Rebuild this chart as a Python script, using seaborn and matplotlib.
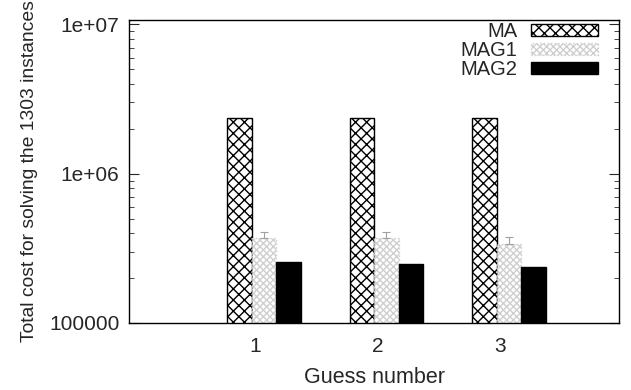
import seaborn as sns
import matplotlib.pyplot as plt
import pandas as pd
import numpy as np

# Wartości
guesses = ["1", "2", "3"]
methods = ["MA", "MAG1", "MAG2"]
ma_cost = [2.36e6, 2.36e6, 2.36e6]
mag1_cost = [3.69e5, 3.69e5, 3.36e5]
mag2_cost = [2.55e5, 2.47e5, 2.36e5]
mag1_err = [3.5e4, 3.5e4, 3.8e4]
y_ticks = [1e5, 1e6, 1e7]
y_tick_labels = ["100000", "1e+06", "1e+07"]

sns.set_style("ticks")
plt.rcParams["font.family"] = ["Liberation Sans", "DejaVu Sans"]
plt.rcParams["hatch.linewidth"] = 1.0

df = pd.DataFrame({
    "guess": guesses * 3,
    "method": [m for m in methods for _ in guesses],
    "cost": ma_cost + mag1_cost + mag2_cost,
})

fig = plt.figure(figsize=(6.31, 3.90), dpi=100)
ax = fig.add_axes([129 / 631, 1 - 323 / 390, 490 / 631, 303 / 390])
ax.set_yscale("log")

sns.barplot(data=df, x="guess", y="cost", hue="method", width=0.6,
            errorbar=None, legend=False, ax=ax)

styles = [
    dict(facecolor="white", edgecolor="black", hatch="xxx", linestyle="-"),
    dict(facecolor="white", edgecolor="#cfcfcf", hatch="xxxxx", linestyle=":"),
    dict(facecolor="black", edgecolor="black", hatch=None, linestyle="-"),
]
for cont, st in zip(ax.containers, styles):
    for bar in cont:
        bar.set_facecolor(st["facecolor"])
        bar.set_edgecolor(st["edgecolor"])
        bar.set_hatch(st["hatch"])
        bar.set_linestyle(st["linestyle"])
        bar.set_linewidth(1.0)

# słupki błędów dla MAG1
xs = [b.get_x() + b.get_width() / 2 for b in ax.containers[1]]
ax.errorbar(xs, mag1_cost, yerr=[np.zeros(3), mag1_err], fmt="none",
            ecolor="#a0a0a0", elinewidth=0.8, capsize=3, capthick=0.8)

ax.set_ylim(1e5, 1.07e7)
ax.set_xlim(-1.10, 2.90)
ax.set_yticks(y_ticks, y_tick_labels)
ax.set_xticks([i - 0.07 for i in range(3)], guesses)
ax.tick_params(axis="y", which="both", direction="in", left=True, right=True,
               labelsize=15, pad=7)
ax.tick_params(axis="y", which="major", length=7, width=0.8)
ax.tick_params(axis="y", which="minor", length=3.5, width=0.6)
ax.tick_params(axis="x", length=0, labelsize=15, pad=10)

ax.set_xlabel("Guess number", fontsize=15.5, labelpad=8)
ax.set_ylabel("Total cost for solving the 1303 instances", fontsize=13.9, labelpad=8)

for sp in ax.spines.values():
    sp.set_visible(True)
    sp.set_color("black")
    sp.set_linewidth(1.0)

leg = ax.legend(ax.containers[:3], methods, loc="upper right",
                bbox_to_anchor=(0.957, 0.993), frameon=False,
                markerfirst=False, fontsize=14.5, handlelength=3.3,
                handleheight=0.55, handletextpad=0.7, labelspacing=0.0,
                borderaxespad=0, borderpad=0)
for col in leg._legend_handle_box.get_children():
    col.align = "right"

fig.savefig("out.png", dpi=100)
